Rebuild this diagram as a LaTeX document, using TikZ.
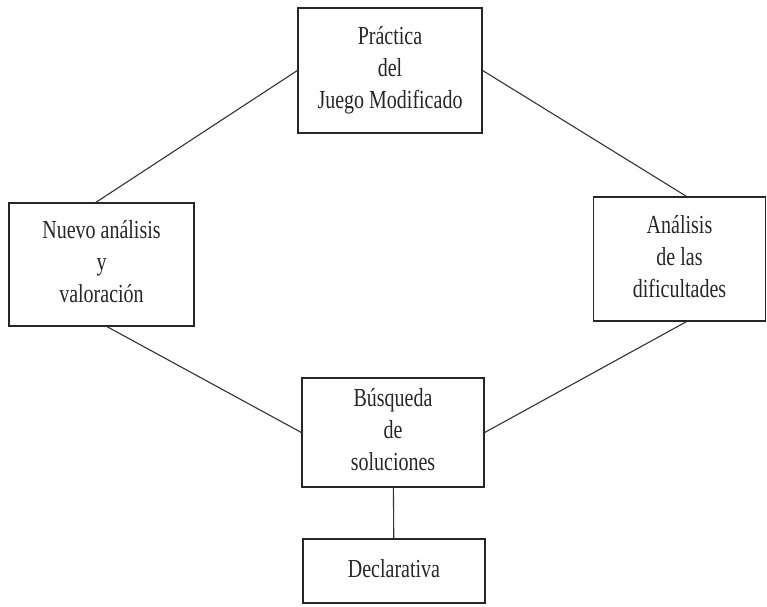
\documentclass[tikz,border=0pt]{standalone}
\usepackage{fontspec}
\setmainfont{Liberation Serif}
\usepackage{graphicx}
\usepackage{tikz}
\usetikzlibrary{positioning,calc}

% texto algo alargado, como en el original
\newcommand{\etiq}[1]{\scalebox{1}[1.3]{\begin{tabular}{@{}c@{}}#1\end{tabular}}}

\begin{document}
\begin{tikzpicture}[
    x=1pt, y=-1pt,
    etapa/.style={rectangle, draw=black!85, line width=1.3pt, inner sep=0pt,
        text=black!85, font=\fontsize{20}{24.6}\selectfont},
    enlace/.style={draw=black!80, line width=1.1pt}
]
\useasboundingbox (0,0) rectangle (767,606);

\node[etapa, minimum width=184pt, minimum height=125pt] (practica) at (390, 70.5) {\etiq{Práctica\\del\\Juego Modificado}};
\node[etapa, minimum width=185pt, minimum height=123pt] (nuevo) at (101.5, 264.5) {\etiq{Nuevo análisis\\y\\valoración}};
\node[etapa, minimum width=172pt, minimum height=124pt] (analisis) at (679.5, 259) {\etiq{Análisis\\de las\\dificultades}};
\node[etapa, minimum width=182pt, minimum height=109pt] (busqueda) at (393, 432.5) {\etiq{Búsqueda\\de\\soluciones}};
\node[etapa, minimum width=182pt, minimum height=64pt] (declarativa) at (394, 571) {\etiq{Declarativa}};

\draw[enlace] (practica.west) -- ($(nuevo.north west)!0.47!(nuevo.north east)$);
\draw[enlace] (practica.east) -- ($(analisis.north west)!0.54!(analisis.north east)$);
\draw[enlace] ($(nuevo.south west)!0.53!(nuevo.south east)$) -- (busqueda.west);
\draw[enlace] ($(analisis.south west)!0.54!(analisis.south east)$) -- (busqueda.east);
\draw[enlace] (busqueda) -- (declarativa);

\end{tikzpicture}
\end{document}
